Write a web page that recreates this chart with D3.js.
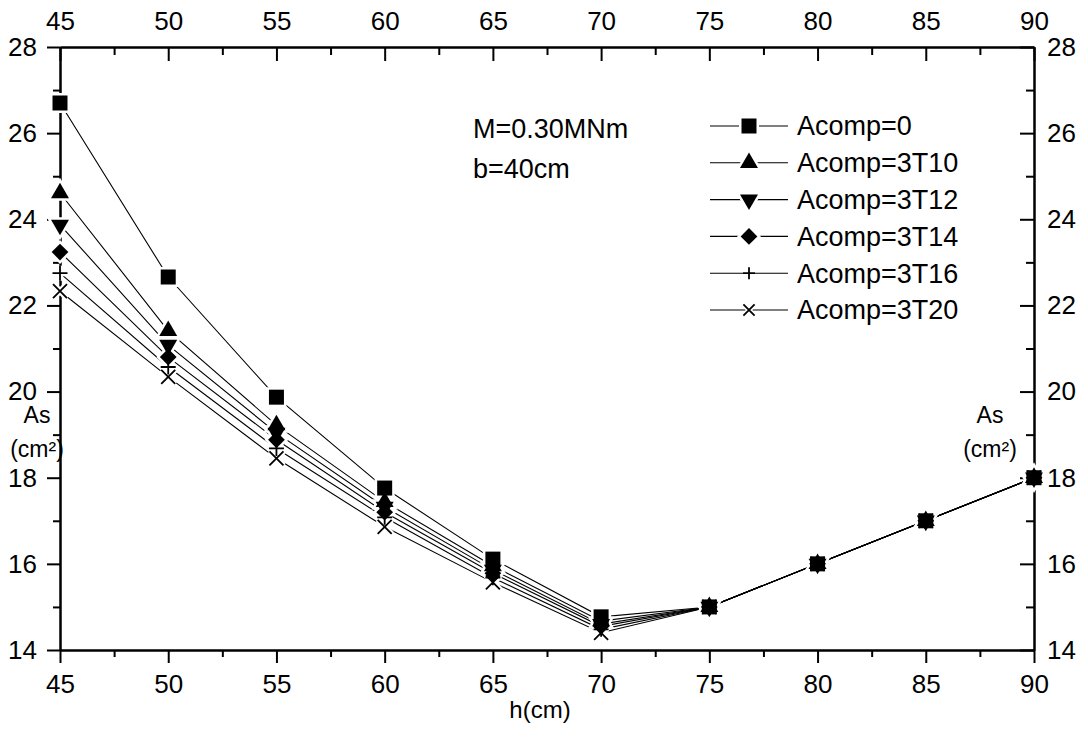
<!DOCTYPE html>
<html>
<head>
<meta charset="utf-8">
<script src="https://cdn.jsdelivr.net/npm/d3@7"></script>
<style>
  html, body { margin: 0; padding: 0; background: #fff; }
  svg { display: block; font-family: "Liberation Sans", Arial, sans-serif; }
</style>
</head>
<body>
<svg id="chart" width="1088" height="750"></svg>
<script>
// ---- data ----
const hValues = [45, 50, 55, 60, 65, 70, 75, 80, 85, 90];
const seriesNames = ["Acomp=0", "Acomp=3T10", "Acomp=3T12", "Acomp=3T14", "Acomp=3T16", "Acomp=3T20"];
const asComp0    = [26.70, 22.66, 19.87, 17.76, 16.11, 14.77, 15, 16, 17, 18];
const asComp3T10 = [24.61, 21.41, 19.22, 17.44, 15.95, 14.67, 15, 16, 17, 18];
const asComp3T12 = [23.87, 21.08, 19.04, 17.32, 15.86, 14.60, 15, 16, 17, 18];
const asComp3T14 = [23.24, 20.80, 18.88, 17.20, 15.78, 14.55, 15, 16, 17, 18];
const asComp3T16 = [22.75, 20.57, 18.68, 17.08, 15.68, 14.48, 15, 16, 17, 18];
const asComp3T20 = [22.33, 20.34, 18.45, 16.86, 15.57, 14.40, 15, 16, 17, 18];
const xMajorTicks = [45, 50, 55, 60, 65, 70, 75, 80, 85, 90];
const xMinorTicks = [47.5, 52.5, 57.5, 62.5, 67.5, 72.5, 77.5, 82.5, 87.5];
const yMajorTicks = [14, 16, 18, 20, 22, 24, 26, 28];
const yMinorTicks = [15, 17, 19, 21, 23, 25, 27];
const markerTypes = ["square", "triangleUp", "triangleDown", "diamond", "plus", "cross"];

const allSeries = [asComp0, asComp3T10, asComp3T12, asComp3T14, asComp3T16, asComp3T20];

// ---- layout ----
const L = 60, R = 1034, T = 47, B = 650;
const FS = 26;
const FS_TXT = 27;
const svg = d3.select("#chart");

const x = d3.scaleLinear().domain([45, 90]).range([L, R]);
const y = d3.scaleLinear().domain([14, 28]).range([B, T]);

function styleAxis(g) {
  g.selectAll("path.domain").attr("stroke", "#000").attr("stroke-width", 2);
  g.selectAll(".tick line").attr("stroke", "#000").attr("stroke-width", 2);
  g.selectAll("text").attr("font-size", FS).attr("fill", "#000")
    .attr("font-family", "'Liberation Sans', Arial, sans-serif");
}

// bottom axis (outward ticks)
svg.append("g").attr("transform", `translate(0,${B})`)
  .call(d3.axisBottom(x).tickValues(xMinorTicks).tickSize(7).tickSizeOuter(0).tickFormat(""))
  .call(styleAxis);
svg.append("g").attr("transform", `translate(0,${B})`)
  .call(d3.axisBottom(x).tickValues(xMajorTicks).tickSize(13).tickPadding(12).tickSizeOuter(0).tickFormat(d3.format("d")))
  .call(styleAxis);
// top axis (inward ticks)
svg.append("g").attr("transform", `translate(0,${T})`)
  .call(d3.axisTop(x).tickValues(xMinorTicks).tickSize(-8).tickSizeOuter(0).tickFormat(""))
  .call(styleAxis);
svg.append("g").attr("transform", `translate(0,${T})`)
  .call(d3.axisTop(x).tickValues(xMajorTicks).tickSize(-14).tickPadding(17).tickSizeOuter(0).tickFormat(d3.format("d")))
  .call(styleAxis);
// left axis (outward ticks)
svg.append("g").attr("transform", `translate(${L},0)`)
  .call(d3.axisLeft(y).tickValues(yMinorTicks).tickSize(7).tickSizeOuter(0).tickFormat(""))
  .call(styleAxis);
svg.append("g").attr("transform", `translate(${L},0)`)
  .call(d3.axisLeft(y).tickValues(yMajorTicks).tickSize(13).tickPadding(10).tickSizeOuter(0).tickFormat(d3.format("d")))
  .call(styleAxis);
// right axis (inward ticks)
svg.append("g").attr("transform", `translate(${R},0)`)
  .call(d3.axisRight(y).tickValues(yMinorTicks).tickSize(-8).tickSizeOuter(0).tickFormat(""))
  .call(styleAxis);
svg.append("g").attr("transform", `translate(${R},0)`)
  .call(d3.axisRight(y).tickValues(yMajorTicks).tickSize(-14).tickPadding(13).tickSizeOuter(0).tickFormat(d3.format("d")))
  .call(styleAxis);

// ---- markers ----
function markerPath(type) {
  switch (type) {
    case "square": return { d: d3.symbol(d3.symbolSquare, 225)(), filled: true, rot: 0 };
    case "triangleUp": return { d: d3.symbol(d3.symbolTriangle, 140)(), filled: true, rot: 0 };
    case "triangleDown": return { d: d3.symbol(d3.symbolTriangle, 140)(), filled: true, rot: 180 };
    case "diamond": return { d: d3.symbol(d3.symbolSquare, 140)(), filled: true, rot: 45 };
    case "plus": return { d: "M-7.5,0L7.5,0M0,-7.5L0,7.5", filled: false, rot: 0 };
    case "cross": return { d: "M-7,-7L7,7M-7,7L7,-7", filled: false, rot: 0 };
  }
}

function drawHalo(g, type, cx, cy, scale) {
  const m = markerPath(type);
  const s = scale || 1;
  g.append("path").attr("d", m.d)
    .attr("transform", `translate(${cx},${cy}) rotate(${m.rot}) scale(${s})`)
    .attr("fill", m.filled ? "#fff" : "none")
    .attr("stroke", "#fff").attr("stroke-width", m.filled ? 5 : 6);
}
function drawMarker(g, type, cx, cy, scale) {
  const m = markerPath(type);
  const s = scale || 1;
  g.append("path").attr("d", m.d)
    .attr("transform", `translate(${cx},${cy}) rotate(${m.rot}) scale(${s})`)
    .attr("fill", m.filled ? "#000" : "none")
    .attr("stroke", m.filled ? "none" : "#000")
    .attr("stroke-width", m.filled ? 0 : 1.8 / s);
}

const line = d3.line().x((d, i) => x(hValues[i])).y(d => y(d));
const plot = svg.append("g");
allSeries.forEach(vals => {
  plot.append("path").attr("d", line(vals))
    .attr("fill", "none").attr("stroke", "#000").attr("stroke-width", 1.1);
});
const halos = plot.append("g");
const marks = plot.append("g");
allSeries.forEach((vals, si) => {
  vals.forEach((v, i) => drawHalo(halos, markerTypes[si], x(hValues[i]), y(v)));
});
allSeries.forEach((vals, si) => {
  vals.forEach((v, i) => drawMarker(marks, markerTypes[si], x(hValues[i]), y(v)));
});

// ---- legend ----
const legend = svg.append("g");
const legY0 = 126, legDy = 36.8;
seriesNames.forEach((name, i) => {
  const cy = legY0 + i * legDy;
  const sc = (markerTypes[i] === "plus" || markerTypes[i] === "cross") ? 0.8 : 1;
  legend.append("line").attr("x1", 710).attr("x2", 788).attr("y1", cy).attr("y2", cy)
    .attr("stroke", "#000").attr("stroke-width", 1.1);
  drawHalo(legend, markerTypes[i], 749, cy, sc);
  drawMarker(legend, markerTypes[i], 749, cy, sc);
  legend.append("text").attr("x", 797).attr("y", cy).attr("dy", "0.35em")
    .attr("font-size", FS_TXT).attr("fill", "#000").text(name);
});

// ---- annotations ----
svg.append("text").attr("x", 473).attr("y", 138).attr("font-size", FS_TXT).text("M=0.30MNm");
svg.append("text").attr("x", 473).attr("y", 178).attr("font-size", FS_TXT).text("b=40cm");

svg.append("text").attr("x", 37).attr("y", 423).attr("text-anchor", "middle").attr("font-size", 23).text("As");
svg.append("text").attr("x", 37).attr("y", 457).attr("text-anchor", "middle").attr("font-size", 23).text("(cm²)");
svg.append("text").attr("x", 990).attr("y", 423).attr("text-anchor", "middle").attr("font-size", 23).text("As");
svg.append("text").attr("x", 990).attr("y", 457).attr("text-anchor", "middle").attr("font-size", 23).text("(cm²)");

svg.append("text").attr("x", 540).attr("y", 718).attr("text-anchor", "middle").attr("font-size", 24).text("h(cm)");
</script>
</body>
</html>
